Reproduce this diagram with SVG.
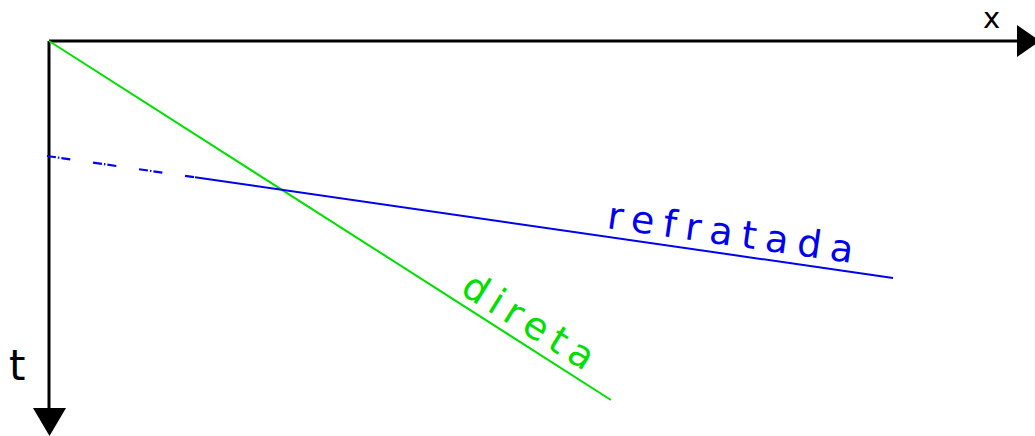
<svg xmlns="http://www.w3.org/2000/svg" width="1035" height="436" viewBox="0 0 1035 436">
<style>
.axis{stroke:#000;stroke-width:3;fill:none}
.big{font-family:"DejaVu Sans","Liberation Sans",sans-serif;font-size:38px}
</style>
<rect width="1035" height="436" fill="#fff"/>
<g id="axes">
<line class="axis" x1="49" y1="41" x2="1020" y2="41"/>
<polygon points="1017,25 1017,57 1040,41" fill="#000"/>
<line class="axis" x1="49" y1="41" x2="49" y2="410"/>
<polygon points="33,408 66,408 49.5,436" fill="#000"/>
<text class="big" x="983" y="28" fill="#000" style="font-size:29px">x</text>
<text class="big" x="9" y="380" fill="#000" style="font-size:42px">t</text>
</g>
<g id="connectors">
<line x1="49" y1="41" x2="611" y2="400" stroke="#00e000" stroke-width="2"/>
<line x1="47" y1="156" x2="195" y2="177.3" stroke="#0000ee" stroke-width="2.2" stroke-dasharray="9 2 1.5 2 9 23"/>
<line x1="195" y1="177.3" x2="893" y2="278" stroke="#0000ee" stroke-width="2"/>
</g>
<g id="label-refratada">
<text class="big" fill="#0000ee" transform="translate(606,228) rotate(8.1)" textLength="248" lengthAdjust="spacing">refratada</text>
</g>
<g id="label-direta">
<text class="big" fill="#00e000" transform="translate(459,293) rotate(32)" textLength="148" lengthAdjust="spacing">direta</text>
</g>
</svg>
